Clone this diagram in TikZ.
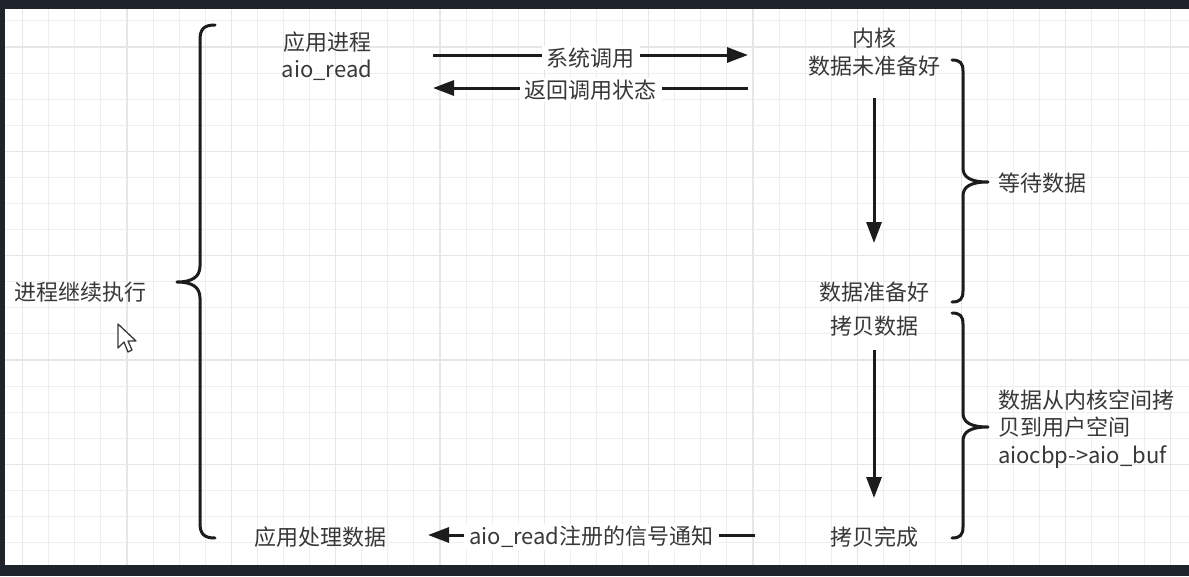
\documentclass[tikz,border=0pt]{standalone}
\usepackage{fontspec}
\setmainfont{Noto Sans CJK SC}
\usetikzlibrary{arrows.meta}
\definecolor{frame}{HTML}{1F232A}
\definecolor{ink}{HTML}{1C1C1C}
\definecolor{txt}{HTML}{383838}
\definecolor{gridmin}{HTML}{EEEEEE}
\definecolor{gridmaj}{HTML}{E6E6E6}
\tikzstyle{lbl}=[text=txt,font=\fontsize{22}{27.5}\selectfont,inner sep=0pt]
\tikzstyle{edgelbl}=[lbl,fill=white,inner xsep=5pt,inner ysep=2pt]
\tikzstyle{flow}=[draw=ink,line width=3pt,-{Triangle[length=21pt,width=15pt]}]
\tikzstyle{curly}=[draw=ink,line width=3pt,line cap=round,line join=round]

\begin{document}
\begin{tikzpicture}[x=1pt,y=-1pt]
            \useasboundingbox (0,0) rectangle (1189,576);
            \fill[frame] (0,0) rectangle (1189,576);
            \fill[white] (5,9) rectangle (1189,565);

            % GRID
            \begin{scope}
              \clip (5,9) rectangle (1189,565);
              \foreach \k in {-4,...,41}
                \draw[gridmin,line width=1pt] ({127+26.08*\k},9) -- ({127+26.08*\k},565);
              \foreach \k in {-1,...,20}
                \draw[gridmin,line width=1pt] (5,{47+26.08*\k}) -- (1189,{47+26.08*\k});
              \foreach \k in {-1,...,10}
                \draw[gridmaj,line width=1.2pt] ({127+104.32*\k},9) -- ({127+104.32*\k},565);
              \foreach \k in {0,...,5}
                \draw[gridmaj,line width=1.2pt] (5,{47+104.32*\k}) -- (1189,{47+104.32*\k});
            \end{scope}

            % PROCESS SIDE

            \node[lbl,align=center] (app) at (327,56) {应用进程\\aio\_read};
            \node[lbl] (handle) at (320,537) {应用处理数据};
            \node[lbl] (cont) at (80,292) {进程继续执行};

            % KERNEL SIDE

            \node[lbl,align=center] (kernel) at (874,52) {内核\\数据未准备好};
            \node[lbl] (ready) at (874,292) {数据准备好};
            \node[lbl] (copy) at (874,326) {拷贝数据};
            \node[lbl] (done) at (874,537) {拷贝完成};
            \node[lbl,anchor=west] (wait) at (998,183) {等待数据};
            \node[lbl,anchor=west,align=left] (copytxt) at (998,429) {数据从内核空间拷\\贝到用户空间\\aiocbp->aio\_buf};

            % Connector ends

            \coordinate (callA) at (433,55);
            \coordinate (callB) at (748,55);
            \coordinate (backA) at (748,88);
            \coordinate (backB) at (433,88);
            \coordinate (sigA) at (755,535);
            \coordinate (sigB) at (428,535);
            \coordinate (waitA) at (874,98);
            \coordinate (waitB) at (874,243);
            \coordinate (copyA) at (874,350);
            \coordinate (copyB) at (874,498);

            \draw[flow] (callA) -- node[edgelbl,yshift=-3pt] {系统调用} (callB);
            \draw[flow] (backA) -- node[edgelbl,yshift=-2pt] {返回调用状态} (backB);
            \draw[flow] (sigA) -- node[edgelbl,yshift=-2pt] {aio\_read注册的信号通知} (sigB);
            \draw[flow] (waitA) -- (waitB);
            \draw[flow] (copyA) -- (copyB);

            % Braces

            \draw[curly] (215,25) .. controls (204,25) and (200,29) .. (200,40) -- (200,266)
                .. controls (200,277) and (192,282) .. (177,282)
                .. controls (192,282) and (200,287) .. (200,298) -- (200,523)
                .. controls (200,534) and (204,538) .. (215,538);
            \draw[curly] (952,60) .. controls (960,60) and (963,63) .. (963,71) -- (963,168)
                .. controls (963,177) and (970,182) .. (988,182)
                .. controls (970,182) and (963,187) .. (963,196) -- (963,291)
                .. controls (963,299) and (960,302) .. (952,302);
            \draw[curly] (952,313) .. controls (960,313) and (963,316) .. (963,324) -- (963,413)
                .. controls (963,422) and (970,427) .. (988,427)
                .. controls (970,427) and (963,432) .. (963,441) -- (963,527)
                .. controls (963,535) and (960,538) .. (952,538);

            % Pointer
            \draw[draw=txt,fill=white,line width=1.3pt,line join=round] (118,324) -- ++(0,24) -- ++(6,-6)
                -- ++(4,10) -- ++(4,-2) -- ++(-4,-9) -- ++(8,0) -- cycle;

\end{tikzpicture}
\end{document}
